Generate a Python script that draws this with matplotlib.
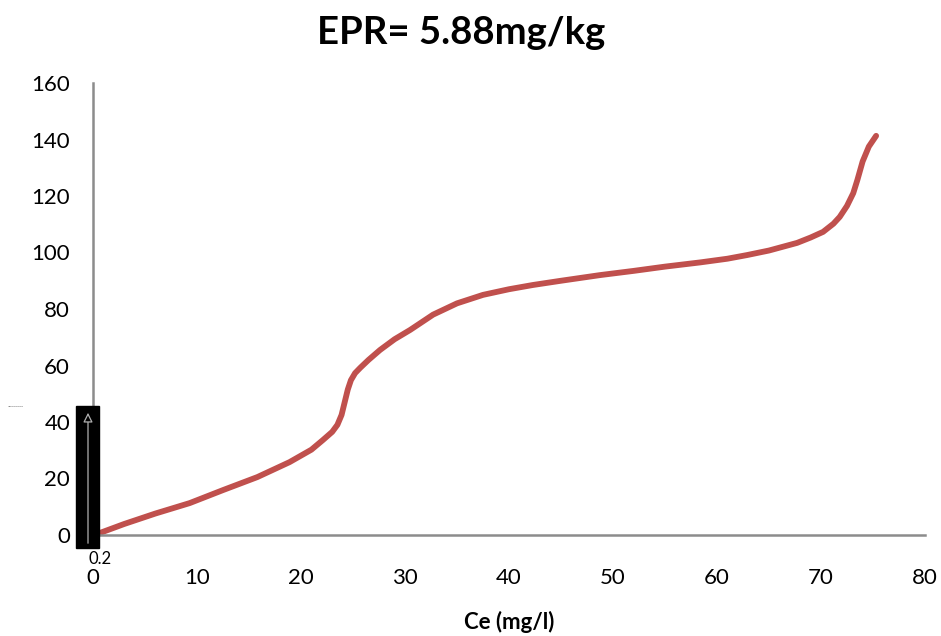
import matplotlib.pyplot as plt
from matplotlib.patches import Rectangle

# valores
ce = [0.5, 3, 6, 9.3, 12.5, 15.8, 18.9, 21, 22.1, 23, 23.5, 23.9, 24.2,
      24.5, 24.8, 25.2, 25.7, 26.5, 27.6, 29, 30.5, 32.7, 35, 37.5, 40, 42.3,
      45, 48.75, 52, 55, 58.4, 61, 62.9, 65, 67.7, 69, 70.2, 71.2, 71.8,
      72.5, 73.1, 73.5, 74.0, 74.6, 75.3]
qe = [0.5, 3.9, 7.6, 11.3, 15.9, 20.5, 25.8, 30.2, 33.6, 36.5, 39.0, 42.5,
      47.0, 51.5, 54.8, 57.3, 59.2, 62.0, 65.5, 69.3, 72.6, 78.0, 82, 85,
      87, 88.5, 90, 92, 93.5, 95, 96.5, 97.8, 99.1, 100.7, 103.4, 105.3,
      107.3, 110.2, 112.6, 116.5, 121, 125.7, 132.2, 137.5, 141.3]

x_ticks = list(range(0, 81, 10))
y_ticks = list(range(0, 161, 20))

plt.rcParams['font.family'] = ['Lato', 'DejaVu Sans']

W, H = 941, 636
fig = plt.figure(figsize=(W / 100, H / 100), dpi=100)
ax = fig.add_axes([93 / W, 1 - 535 / H, (925 - 93) / W, (535 - 83) / H])

ax.plot(ce, qe, color='#C0504D', lw=4.2, solid_capstyle='round',
        solid_joinstyle='round')

ax.set_xlim(0, 80)
ax.set_ylim(0, 160)
ax.set_xticks(x_ticks)
ax.set_yticks(y_ticks)
ax.tick_params(length=0, labelsize=16)
ax.tick_params(axis='x', pad=24)
ax.tick_params(axis='y', pad=16.5)
for s in ['top', 'right']:
    ax.spines[s].set_visible(False)
for s in ['left', 'bottom']:
    ax.spines[s].set_color('#8c8c8c')
    ax.spines[s].set_linewidth(1.8)

ax.set_xlabel('Ce (mg/l)', fontsize=16, fontweight='bold', labelpad=16)
fig.text(461 / W, 1 - 33 / H, 'EPR= 5.88mg/kg', fontsize=27.5,
         fontweight='bold', ha='center', va='center')

# recuadro negro que aparece sobre el eje
fig.patches.append(Rectangle((76 / W, 1 - 548 / H), 23 / W, 142 / H,
                             transform=fig.transFigure, color='black',
                             zorder=5))
flecha = plt.annotate('', xy=(88 / W, 1 - 410 / H),
                      xytext=(88 / W, 1 - 546 / H),
                      xycoords='figure fraction',
                      arrowprops=dict(arrowstyle='-|>', color='#b0b0b0',
                                      lw=0.9, fc='black',
                                      mutation_scale=14))
flecha.set_zorder(10)
fig.add_artist(flecha)
fig.text(100 / W, 1 - 559 / H, '0.2', fontsize=12, ha='center',
         va='center')
fig.text(8 / W, 1 - 407 / H, '~~~~~~~~', fontsize=2.5, ha='left',
         va='center')

fig.savefig('out.png', dpi=100)
